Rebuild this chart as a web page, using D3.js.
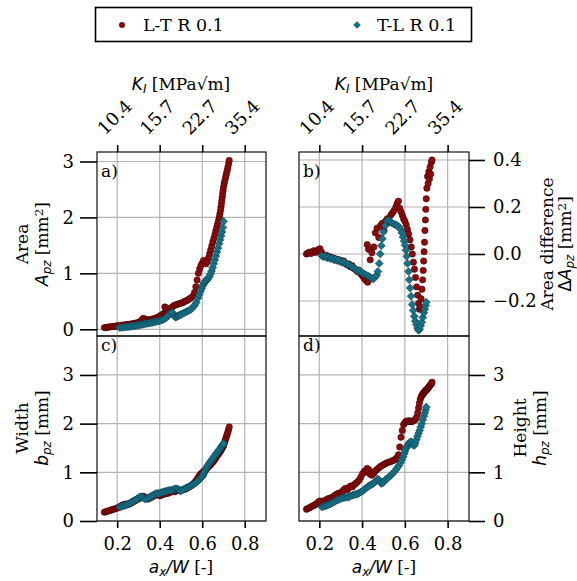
<!DOCTYPE html>
<html>
<head>
<meta charset="utf-8">
<script src="https://cdn.jsdelivr.net/npm/d3@7"></script>
<style>
  html, body { margin: 0; padding: 0; background: #fff; }
  svg { display: block; }
</style>
</head>
<body>
<svg id="chart" width="577" height="581"></svg>
<script>
// ---- data ---------------------------------------------------------------
const seriesNames = ["L-T R 0.1", "T-L R 0.1"];
const xTicks = [0.2, 0.4, 0.6, 0.8];
const xTickLabels = ["0.2", "0.4", "0.6", "0.8"];
const kTickLabels = ["10.4", "15.7", "22.7", "35.4"];
const areaTicks = [0, 1, 2, 3];
const diffTicks = [-0.2, 0.0, 0.2, 0.4];
const sizeTicks = [0, 1, 2, 3];

// L-T specimen: crack length ratio and plastic-zone measures
const ltX = [0.140,0.147,0.154,0.161,0.168,0.175,0.182,0.189,0.196,0.203,0.210,0.218,0.226,0.234,0.242,0.250,0.258,0.266,0.274,0.282,0.290,0.298,0.306,0.314,0.322,0.330,0.338,0.346,0.354,0.362,0.370,0.378,0.386,0.394,0.402,0.410,0.418,0.426,0.432,0.424,0.430,0.438,0.446,0.455,0.462,0.470,0.478,0.486,0.494,0.502,0.510,0.518,0.526,0.534,0.542,0.550,0.558,0.564,0.570,0.576,0.582,0.588,0.594,0.600,0.606,0.612,0.618,0.624,0.630,0.635,0.640,0.645,0.650,0.655,0.660,0.664,0.668,0.672,0.676,0.680,0.683,0.686,0.688,0.690,0.692,0.694,0.696,0.698,0.700,0.703,0.706,0.709,0.712,0.715,0.718,0.721,0.724,0.727];
const ltArea = [0.030,0.033,0.036,0.040,0.044,0.047,0.050,0.054,0.058,0.062,0.066,0.070,0.074,0.078,0.082,0.086,0.090,0.095,0.100,0.106,0.112,0.120,0.135,0.160,0.195,0.185,0.170,0.165,0.170,0.178,0.186,0.195,0.205,0.220,0.240,0.260,0.280,0.290,0.310,0.400,0.385,0.330,0.350,0.380,0.410,0.430,0.440,0.450,0.460,0.470,0.480,0.500,0.510,0.530,0.550,0.570,0.600,0.660,0.760,0.880,1.000,1.080,1.140,1.180,1.230,1.200,1.170,1.210,1.280,1.350,1.420,1.490,1.560,1.630,1.700,1.760,1.820,1.880,1.940,2.000,2.060,2.120,2.180,2.240,2.300,2.360,2.420,2.480,2.540,2.600,2.650,2.700,2.750,2.800,2.850,2.900,2.960,3.020];
const ltAreaDiff = [0.000,0.004,0.008,0.002,0.010,0.014,0.006,0.012,0.018,0.022,0.008,-0.004,-0.010,-0.006,-0.016,-0.012,-0.020,-0.017,-0.026,-0.022,-0.030,-0.026,-0.034,-0.030,-0.040,-0.046,-0.042,-0.055,-0.050,-0.062,-0.066,-0.075,-0.070,-0.084,-0.094,-0.104,-0.112,-0.120,-0.110,0.040,0.020,-0.025,0.005,0.030,0.090,0.110,0.070,0.120,0.130,0.100,0.140,0.150,0.135,0.165,0.175,0.185,0.200,0.215,0.225,0.195,0.180,0.165,0.150,0.140,0.125,0.105,0.085,0.060,0.030,0.000,-0.035,-0.065,-0.100,-0.140,-0.175,-0.210,-0.235,-0.225,-0.190,-0.150,-0.110,-0.070,-0.030,0.010,0.050,0.100,0.145,0.190,0.235,0.280,0.330,0.300,0.350,0.320,0.370,0.340,0.390,0.400];
const ltWidth = [0.18,0.19,0.20,0.21,0.22,0.23,0.24,0.25,0.26,0.27,0.29,0.31,0.33,0.34,0.35,0.34,0.35,0.37,0.39,0.41,0.43,0.45,0.47,0.49,0.51,0.49,0.47,0.45,0.47,0.49,0.51,0.53,0.55,0.53,0.52,0.54,0.55,0.56,0.57,0.57,0.58,0.57,0.58,0.60,0.61,0.60,0.62,0.63,0.62,0.63,0.64,0.65,0.67,0.69,0.71,0.73,0.76,0.79,0.82,0.86,0.90,0.94,0.97,0.99,1.02,1.04,1.06,1.09,1.12,1.14,1.16,1.19,1.21,1.24,1.27,1.30,1.33,1.35,1.37,1.40,1.42,1.44,1.46,1.47,1.49,1.50,1.52,1.53,1.55,1.59,1.63,1.67,1.71,1.75,1.79,1.83,1.88,1.93];
const ltHeight = [0.24,0.26,0.27,0.29,0.31,0.32,0.34,0.36,0.39,0.41,0.37,0.40,0.42,0.44,0.46,0.47,0.48,0.50,0.53,0.55,0.57,0.56,0.60,0.64,0.67,0.64,0.68,0.72,0.70,0.74,0.77,0.80,0.84,0.90,0.97,1.02,1.04,1.00,1.05,1.08,1.02,0.96,0.94,0.98,1.03,1.06,1.09,1.12,1.14,1.16,1.18,1.20,1.21,1.22,1.24,1.25,1.28,1.30,1.36,1.52,1.72,1.86,1.98,2.02,2.05,2.04,2.06,2.05,2.04,2.05,2.06,2.07,2.09,2.13,2.22,2.32,2.42,2.50,2.55,2.58,2.60,2.62,2.63,2.64,2.65,2.66,2.67,2.68,2.69,2.70,2.72,2.73,2.75,2.77,2.79,2.80,2.82,2.85];

// T-L specimen
const tlX = [0.212,0.220,0.228,0.236,0.244,0.252,0.260,0.268,0.276,0.284,0.292,0.300,0.308,0.316,0.324,0.332,0.340,0.348,0.356,0.364,0.372,0.380,0.388,0.396,0.404,0.412,0.420,0.428,0.436,0.444,0.452,0.460,0.468,0.474,0.480,0.485,0.490,0.495,0.500,0.508,0.516,0.524,0.532,0.540,0.548,0.556,0.564,0.572,0.580,0.586,0.592,0.597,0.601,0.605,0.609,0.613,0.617,0.621,0.625,0.629,0.634,0.639,0.644,0.649,0.654,0.659,0.664,0.669,0.674,0.679,0.684,0.689,0.693,0.697,0.700];
const tlArea = [0.030,0.033,0.036,0.040,0.043,0.047,0.050,0.054,0.058,0.063,0.068,0.074,0.080,0.086,0.092,0.098,0.104,0.110,0.116,0.122,0.128,0.135,0.142,0.150,0.158,0.168,0.180,0.200,0.230,0.260,0.290,0.300,0.240,0.215,0.225,0.235,0.245,0.255,0.265,0.280,0.295,0.310,0.325,0.340,0.360,0.390,0.430,0.480,0.560,0.620,0.680,0.730,0.770,0.800,0.830,0.850,0.870,0.880,0.900,0.920,0.950,0.990,1.040,1.100,1.170,1.240,1.310,1.380,1.450,1.530,1.600,1.670,1.740,1.820,1.930];
const tlAreaDiff = [-0.008,-0.012,-0.010,-0.016,-0.014,-0.020,-0.018,-0.024,-0.022,-0.028,-0.026,-0.032,-0.036,-0.034,-0.040,-0.045,-0.048,-0.052,-0.056,-0.062,-0.066,-0.072,-0.070,-0.078,-0.082,-0.086,-0.090,-0.094,-0.098,-0.102,-0.106,-0.100,-0.090,-0.075,-0.040,0.000,0.035,0.065,0.094,0.120,0.140,0.143,0.138,0.132,0.128,0.124,0.122,0.115,0.105,0.090,0.072,0.055,0.037,0.016,-0.010,-0.040,-0.075,-0.110,-0.145,-0.180,-0.215,-0.240,-0.265,-0.285,-0.300,-0.315,-0.325,-0.320,-0.305,-0.290,-0.270,-0.250,-0.235,-0.220,-0.205];
const tlWidth = [0.29,0.30,0.31,0.32,0.33,0.35,0.37,0.39,0.41,0.43,0.45,0.48,0.50,0.49,0.47,0.45,0.46,0.48,0.50,0.52,0.54,0.56,0.57,0.56,0.58,0.59,0.60,0.61,0.62,0.63,0.63,0.64,0.65,0.66,0.66,0.65,0.64,0.63,0.62,0.64,0.66,0.68,0.69,0.71,0.73,0.75,0.77,0.79,0.82,0.85,0.88,0.90,0.92,0.95,0.99,1.03,1.07,1.10,1.13,1.16,1.19,1.22,1.25,1.28,1.31,1.34,1.37,1.40,1.43,1.46,1.49,1.52,1.54,1.57,1.59];
const tlHeight = [0.29,0.30,0.31,0.32,0.34,0.35,0.37,0.39,0.41,0.43,0.44,0.46,0.47,0.48,0.49,0.49,0.50,0.52,0.53,0.54,0.55,0.56,0.58,0.60,0.62,0.65,0.68,0.71,0.73,0.75,0.77,0.80,0.83,0.86,0.84,0.80,0.77,0.78,0.80,0.84,0.87,0.90,0.93,0.96,1.00,1.04,1.09,1.14,1.20,1.26,1.32,1.38,1.44,1.49,1.52,1.55,1.58,1.60,1.62,1.63,1.60,1.56,1.55,1.60,1.67,1.74,1.80,1.86,1.93,2.00,2.08,2.15,2.22,2.28,2.34];

// ---- styling ------------------------------------------------------------
const RED = "#8a0c0c";
const TEAL = "#17738a";
const SERIF = "'DejaVu Serif', serif";
const SANS = "'DejaVu Sans', sans-serif";
const FS = 17;       // titles
const FS_TICK = 18;  // tick labels
const FS_LEG = 17.5; // legend

const svg = d3.select("#chart");
svg.append("rect").attr("width", 577).attr("height", 581).attr("fill", "#fff");

// panel boxes
const colL = [97, 266], colR = [299, 469];
const rowT = [336, 152], rowB = [521, 336];

const xL = d3.scaleLinear().domain([0.105, 0.9]).range(colL);
const xR = d3.scaleLinear().domain([0.105, 0.9]).range(colR);
const yArea = d3.scaleLinear().domain([-0.12, 3.17]).range(rowT);
const yDiff = d3.scaleLinear().domain([-0.349, 0.434]).range(rowT);
const yWidth = d3.scaleLinear().domain([0, 3.8]).range(rowB);
const yHeight = d3.scaleLinear().domain([0, 3.8]).range(rowB);

const lt = ltX.map((x, i) => ({x, area: ltArea[i], diff: ltAreaDiff[i], width: ltWidth[i], height: ltHeight[i]}));
const tl = tlX.map((x, i) => ({x, area: tlArea[i], diff: tlAreaDiff[i], width: tlWidth[i], height: tlHeight[i]}));

const diamond = s => `M0,${-s}L${s},0L0,${s}L${-s},0Z`;

const panels = [
  {key: "area", x: xL, y: yArea, yTicks: areaTicks, label: "a)", labelY: 177},
  {key: "diff", x: xR, y: yDiff, yTicks: diffTicks, label: "b)", labelY: 177},
  {key: "width", x: xL, y: yWidth, yTicks: sizeTicks, label: "c)", labelY: 351},
  {key: "height", x: xR, y: yHeight, yTicks: sizeTicks, label: "d)", labelY: 351}
];

panels.forEach(p => {
  const [x0, x1] = p.x.range();
  const [y0, y1] = p.y.range();
  const g = svg.append("g");
  const clipId = "clip-" + p.key;
  svg.append("clipPath").attr("id", clipId)
    .append("rect").attr("x", x0).attr("y", y1).attr("width", x1 - x0).attr("height", y0 - y1);

  // grid
  g.selectAll("line.gx").data(xTicks).join("line")
    .attr("x1", d => p.x(d)).attr("x2", d => p.x(d))
    .attr("y1", y1).attr("y2", y0)
    .attr("stroke", "#b4b4b4").attr("stroke-width", 1.2);
  g.selectAll("line.gy").data(p.yTicks).join("line")
    .attr("y1", d => p.y(d)).attr("y2", d => p.y(d))
    .attr("x1", x0).attr("x2", x1)
    .attr("stroke", "#b4b4b4").attr("stroke-width", 1.2);

  const marks = g.append("g").attr("clip-path", `url(#${clipId})`);
  marks.selectAll("circle").data(lt).join("circle")
    .attr("cx", d => p.x(d.x)).attr("cy", d => p.y(d[p.key]))
    .attr("r", 3.2).attr("fill", RED)
    .attr("stroke", "#3a0000").attr("stroke-width", 0.5);
  marks.selectAll("path").data(tl).join("path")
    .attr("d", diamond(4.0))
    .attr("transform", d => `translate(${p.x(d.x)},${p.y(d[p.key])})`)
    .attr("fill", TEAL)
    .attr("stroke", "#0b3440").attr("stroke-width", 0.5);

  // frame
  g.append("rect").attr("x", x0).attr("y", y1).attr("width", x1 - x0).attr("height", y0 - y1)
    .attr("fill", "none").attr("stroke", "#111").attr("stroke-width", 1.2);

  g.append("text").attr("x", x0 + 4).attr("y", p.labelY)
    .attr("font-family", SERIF).attr("font-size", FS).text(p.label);
});

function styleAxis(g) {
  g.select(".domain").remove();
  g.selectAll(".tick line").attr("stroke", "#000").attr("stroke-width", 1.6);
  g.selectAll(".tick text").attr("font-family", SERIF).attr("font-size", FS_TICK).attr("fill", "#000");
}

// left axes
svg.append("g").attr("transform", `translate(${colL[0]},0)`)
  .call(d3.axisLeft(yArea).tickValues(areaTicks).tickFormat(d3.format("d")).tickSize(17).tickPadding(6))
  .call(styleAxis);
svg.append("g").attr("transform", `translate(${colL[0]},0)`)
  .call(d3.axisLeft(yWidth).tickValues(sizeTicks).tickFormat(d3.format("d")).tickSize(17).tickPadding(6))
  .call(styleAxis);
// right axes
svg.append("g").attr("transform", `translate(${colR[1]},0)`)
  .call(d3.axisRight(yDiff).tickValues(diffTicks).tickFormat(d3.format(".1f")).tickSize(16).tickPadding(8))
  .call(styleAxis);
svg.append("g").attr("transform", `translate(${colR[1]},0)`)
  .call(d3.axisRight(yHeight).tickValues(sizeTicks).tickFormat(d3.format("d")).tickSize(16).tickPadding(8))
  .call(styleAxis);

// bottom axes
[xL, xR].forEach(xs => {
  svg.append("g").attr("transform", `translate(0,${rowB[0]})`)
    .call(d3.axisBottom(xs).tickValues(xTicks).tickFormat((d, i) => xTickLabels[i]).tickSize(7).tickPadding(9))
    .call(styleAxis);
});

// top axes with stress-intensity labels
[xL, xR].forEach(xs => {
  const g = svg.append("g").attr("transform", `translate(0,${rowT[1]})`)
    .call(d3.axisTop(xs).tickValues(xTicks).tickFormat((d, i) => kTickLabels[i]).tickSize(7))
    .call(styleAxis);
  g.selectAll(".tick text")
    .attr("y", 0).attr("dy", "0.35em").attr("text-anchor", "middle")
    .attr("transform", "translate(-3,-35) rotate(-45)");
});

// ---- axis titles --------------------------------------------------------
function mathLabel(sel, parts) {
  parts.forEach(pt => {
    const t = sel.append("tspan").text(pt.t);
    t.attr("font-family", pt.serif ? SERIF : SANS);
    if (pt.it) t.attr("font-style", "italic");
    if (pt.sub) t.attr("font-size", FS * 0.7).attr("baseline-shift", "-22%");
    if (pt.sup) t.attr("font-size", FS * 0.7).attr("baseline-shift", "42%");
  });
}

function kTitle(cx) {
  const t = svg.append("text").attr("x", cx).attr("y", 90).attr("text-anchor", "middle").attr("font-size", FS);
  mathLabel(t, [{t: "K", it: true}, {t: "I", it: true, sub: true}, {t: " [MPa√m]", serif: true}]);
}
kTitle(181);
kTitle(384);

function xTitle(cx) {
  const t = svg.append("text").attr("x", cx).attr("y", 573).attr("text-anchor", "middle").attr("font-size", FS);
  mathLabel(t, [{t: "a", it: true}, {t: "x", it: true, sub: true}, {t: "/W", it: true}, {t: " [-]", serif: true}]);
}
xTitle(181);
xTitle(384);

function yTitle(cx, cy, gap, line1, parts) {
  const g = svg.append("g").attr("transform", `translate(${cx},${cy}) rotate(-90)`);
  g.append("text").attr("x", 0).attr("y", -4).attr("text-anchor", "middle")
    .attr("font-family", SERIF).attr("font-size", FS).text(line1);
  const t = g.append("text").attr("x", 0).attr("y", gap).attr("text-anchor", "middle").attr("font-size", FS);
  mathLabel(t, parts);
}
yTitle(32, 244, 16, "Area", [{t: "A", it: true}, {t: "pz", it: true, sub: true}, {t: " [mm", serif: true}, {t: "2", serif: true, sup: true}, {t: "]", serif: true}]);
yTitle(32, 428, 16, "Width", [{t: "b", it: true}, {t: "pz", it: true, sub: true}, {t: " [mm]", serif: true}]);
yTitle(557, 244, 14, "Area difference", [{t: "Δ"}, {t: "A", it: true}, {t: "pz", it: true, sub: true}, {t: " [mm", serif: true}, {t: "2", serif: true, sup: true}, {t: "]", serif: true}]);
yTitle(530, 428, 16, "Height", [{t: "h", it: true}, {t: "pz", it: true, sub: true}, {t: " [mm]", serif: true}]);

// ---- legend -------------------------------------------------------------
const lg = svg.append("g");
lg.append("rect").attr("x", 95.5).attr("y", 7.5).attr("width", 376).attr("height", 34)
  .attr("fill", "#fff").attr("stroke", "#000").attr("stroke-width", 1.6);
const legendItems = [{name: seriesNames[0], mx: 122, tx: 143}, {name: seriesNames[1], mx: 357, tx: 377}];
legendItems.forEach((it, i) => {
  if (i === 0) {
    lg.append("circle").attr("cx", it.mx).attr("cy", 25).attr("r", 2.8).attr("fill", RED)
      .attr("stroke", "#3a0000").attr("stroke-width", 0.5);
  } else {
    lg.append("path").attr("d", diamond(3.4)).attr("transform", `translate(${it.mx},25)`)
      .attr("fill", TEAL).attr("stroke", "#0b3440").attr("stroke-width", 0.5);
  }
  lg.append("text").attr("x", it.tx).attr("y", 31).attr("font-family", SERIF).attr("font-size", FS_LEG).text(it.name);
});
</script>
</body>
</html>
